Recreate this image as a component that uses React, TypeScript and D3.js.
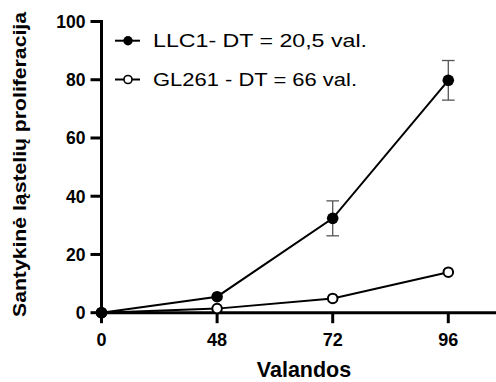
import React from 'react';
import * as d3 from 'd3';

const hours = [0, 48, 72, 96];
const llc1 = [0, 5.5, 32.4, 79.8];
const llc1Err = [0, 0, 6, 6.8];
const gl261 = [0, 1.4, 4.9, 13.9];
const yTicks = [0, 20, 40, 60, 80, 100];
const legendLabels = ['LLC1- DT = 20,5 val.', 'GL261 - DT = 66 val.'];

const font = 'Arial, "Liberation Sans", Helvetica, sans-serif';

const App = () => {
  const width = 496;
  const height = 382;

  // the hours are drawn at equal spacing, like a categorical axis
  const x = d3.scalePoint<number>().domain(hours).range([101.5, 448.3]);
  const y = d3.scaleLinear().domain([0, 100]).range([312.7, 21.5]);
  const xp = (h: number) => x(h) as number;

  const line = d3.line<number>()
    .x((d, i) => xp(hours[i]))
    .y(d => y(d));

  return (
    <svg width={width} height={height} style={{ position: 'absolute', left: 0, top: 0 }}>
      {/* error bars */}
      {llc1.map((v, i) => llc1Err[i] > 0 && (
        <g key={'e' + i} stroke="#555" strokeWidth={1.3}>
          <line x1={xp(hours[i])} x2={xp(hours[i])} y1={y(v - llc1Err[i])} y2={y(v + llc1Err[i])} />
          <line x1={xp(hours[i]) - 6.3} x2={xp(hours[i]) + 6.3} y1={y(v + llc1Err[i])} y2={y(v + llc1Err[i])} />
          <line x1={xp(hours[i]) - 6.3} x2={xp(hours[i]) + 6.3} y1={y(v - llc1Err[i])} y2={y(v - llc1Err[i])} />
        </g>
      ))}

      {/* lines */}
      <path d={line(gl261) || ''} fill="none" stroke="#000" strokeWidth={2} />
      <path d={line(llc1) || ''} fill="none" stroke="#000" strokeWidth={2} />

      {/* axes */}
      <line x1={xp(0)} x2={xp(0)} y1={y(100) - 1.5} y2={y(0) + 1.5} stroke="#000" strokeWidth={3} />
      <line x1={xp(0) - 1.5} x2={width} y1={y(0)} y2={y(0)} stroke="#000" strokeWidth={3} />
      {yTicks.map(t => (
        <g key={'y' + t}>
          <line x1={xp(0) - 11} x2={xp(0)} y1={y(t)} y2={y(t)} stroke="#000" strokeWidth={3} />
          <text x={85.5} y={y(t) + 6.3} textAnchor="end" fontFamily={font} fontWeight="bold" fontSize={17.5}>{t}</text>
        </g>
      ))}
      {hours.map(h => (
        <g key={'x' + h}>
          <line x1={xp(h)} x2={xp(h)} y1={y(0)} y2={y(0) + 10.5} stroke="#000" strokeWidth={3} />
          <text x={xp(h)} y={346} textAnchor="middle" fontFamily={font} fontWeight="bold" fontSize={18}>{h}</text>
        </g>
      ))}

      {/* markers */}
      {gl261.map((v, i) => (
        <circle key={'g' + i} cx={xp(hours[i])} cy={y(v)} r={4.8} fill="#fff" stroke="#000" strokeWidth={2} />
      ))}
      {llc1.map((v, i) => (
        <circle key={'l' + i} cx={xp(hours[i])} cy={y(v)} r={5.8} fill="#000" />
      ))}

      {/* axis titles */}
      <text x={304} y={377} textAnchor="middle" fontFamily={font} fontWeight="bold" fontSize={21.5}>Valandos</text>
      <text transform="translate(26,164.5) rotate(-90)" textAnchor="middle" fontFamily={font} fontWeight="bold" fontSize={18.5}
        textLength={305} lengthAdjust="spacingAndGlyphs">Santykinė ląstelių proliferacija</text>

      {/* legend */}
      {legendLabels.map((lab, i) => {
        const ly = 40.7 + i * 38.8;
        return (
          <g key={'lg' + i}>
            <line x1={115} x2={140} y1={ly} y2={ly} stroke="#000" strokeWidth={2} />
            {i === 0
              ? <circle cx={128} cy={ly} r={4.7} fill="#000" />
              : <circle cx={128} cy={ly} r={4} fill="#fff" stroke="#000" strokeWidth={1.6} />}
            <text x={153} y={ly + 6} fontFamily={font} fontSize={17.5}
              textLength={i === 0 ? 214 : 204} lengthAdjust="spacingAndGlyphs">{lab}</text>
          </g>
        );
      })}
    </svg>
  );
};

export default App;
